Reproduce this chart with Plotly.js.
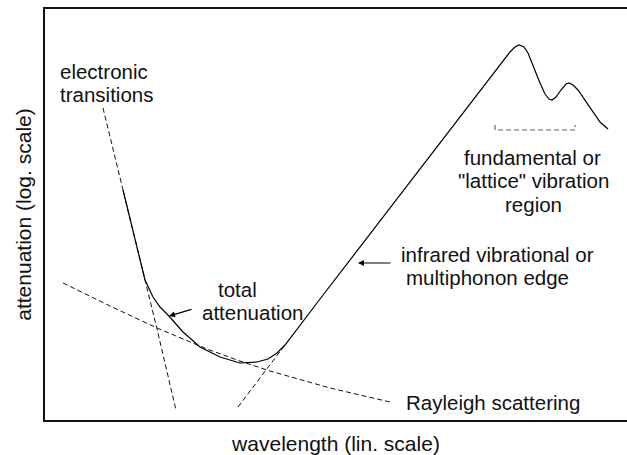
<!DOCTYPE html>
<html>
<head>
<meta charset="utf-8">
<script src="https://cdn.plot.ly/plotly-3.0.1.min.js"></script>
<style>html,body{margin:0;padding:0;background:#fff;}#chart{width:627px;height:455px;}</style>
</head>
<body>
<div id="chart"></div>
<script>
// Total attenuation (solid curve)
const totalX = [123,133,140,145,153,160,168,183,200,220,240,257,268,277,285,320,510,515,519,524,528,533,540,545,549,552,556,561,566,569,573,578,583,593,600,608];
const totalY = [230,190,160,140,123,113,105,88,73,63,57,58,61,67,75,121,368,373,375,373,367,354,337,326,321,320,323,330,336,337,335,330,323,308,298,291];
// Electronic transitions (dashed)
const elecX = [103,123,146,157,176];
const elecY = [312,230,137,91,10];
// Infrared edge extension (dashed)
const irX = [238,285];
const irY = [13,75];
// Rayleigh scattering (dashed)
const rayX = [63,110,157,207,240,270,330,390];
const rayY = [137,114,92,71,59,49,32,18];
// Bracket for the fundamental vibration region
const brX = [495,495,575,575];
const brY = [295,290,290,295];

const labelText = ["electronic","transitions","total","attenuation","infrared vibrational or","multiphonon edge","Rayleigh scattering","fundamental or","\"lattice\" vibration","region"];
const labelX = [104,106,237,252,497,487,493,532,533,533];
const labelY = [348.5,325.5,130.5,107.5,165.5,142.5,18,263,239.5,216];

const FONT = {family: "Liberation Sans, Arial, sans-serif", size: 20.5, color: "#111"};
const TITLEFONT = {family: "Liberation Sans, Arial, sans-serif", size: 21, color: "#111"};
const dash = "5px,3px";

const traces = [
  {x: elecX, y: elecY, mode: "lines", line: {color: "#111", width: 1, dash: dash}, hoverinfo: "skip"},
  {x: irX, y: irY, mode: "lines", line: {color: "#111", width: 1, dash: dash}, hoverinfo: "skip"},
  {x: rayX, y: rayY, mode: "lines", line: {color: "#111", width: 1, dash: dash}, hoverinfo: "skip"},
  {x: brX, y: brY, mode: "lines", line: {color: "#666", width: 1.2, dash: dash}, hoverinfo: "skip"},
  {x: totalX, y: totalY, mode: "lines", line: {color: "#000", width: 1.2}, hoverinfo: "skip"}
];

const annotations = labelText.map((t, i) => ({
  x: labelX[i], y: labelY[i], xref: "x", yref: "y", text: t, showarrow: false,
  xanchor: "center", yanchor: "middle", font: FONT
}));
annotations.push({x: 169, y: 104, ax: 193, ay: 111, axref: "x", ayref: "y", xref: "x", yref: "y", text: "",
  showarrow: true, arrowhead: 2, arrowsize: 1, arrowwidth: 1.2, arrowcolor: "#000"});
annotations.push({x: 358, y: 157, ax: 392, ay: 157, axref: "x", ayref: "y", xref: "x", yref: "y", text: "",
  showarrow: true, arrowhead: 2, arrowsize: 1, arrowwidth: 1.2, arrowcolor: "#000"});

const layout = {
  width: 627, height: 455,
  margin: {l: 45, r: 0, t: 9, b: 35},
  paper_bgcolor: "#fff", plot_bgcolor: "#fff",
  showlegend: false,
  font: FONT,
  xaxis: {range: [45, 627], showgrid: false, zeroline: false, showticklabels: false, ticks: "",
    showline: true, mirror: true, linecolor: "#111", linewidth: 2,
    title: {text: "wavelength (lin. scale)", font: TITLEFONT, standoff: 20}},
  yaxis: {range: [0, 411], showgrid: false, zeroline: false, showticklabels: false, ticks: "",
    showline: true, mirror: false, linecolor: "#111", linewidth: 2,
    title: {text: "attenuation (log. scale)", font: TITLEFONT, standoff: 6}},
  annotations: annotations
};

Plotly.newPlot("chart", traces, layout, {displayModeBar: false, staticPlot: true});
</script>
</body>
</html>
